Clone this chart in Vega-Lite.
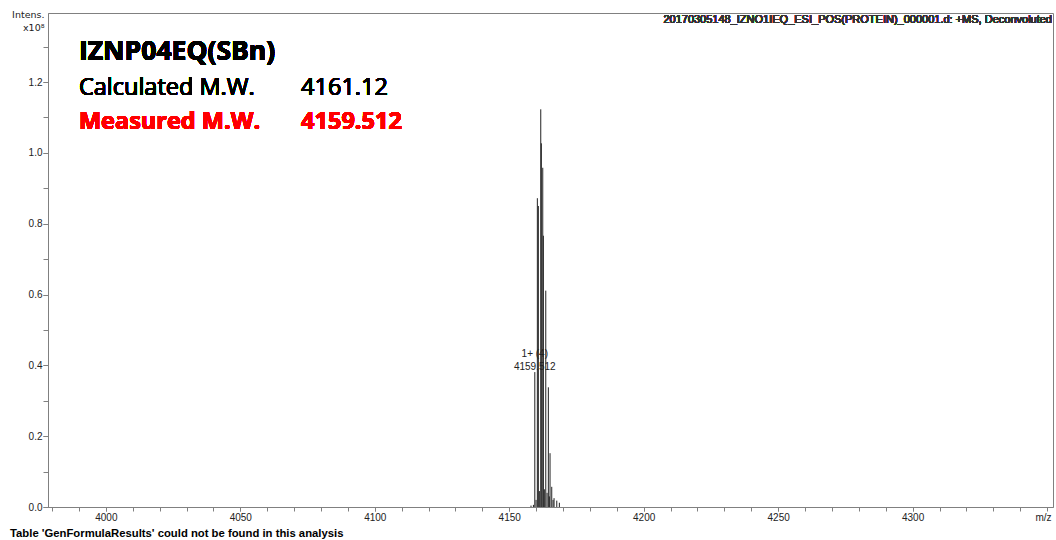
{
  "$schema": "https://vega.github.io/schema/vega-lite/v6.json",
  "width": 1005,
  "height": 494,
  "autosize": {"type": "none"},
  "padding": {"left": 48, "top": 13, "right": 3, "bottom": 33},
  "background": "white",
  "config": {"view": {"stroke": "#808080", "strokeWidth": 1}, "font": "Liberation Sans"},
  "title": {"text": "Table 'GenFormulaResults' could not be found in this analysis", "orient": "bottom", "anchor": "start", "frame": "group", "fontSize": 11.3, "fontWeight": "bold", "color": "#000000", "font": "Liberation Sans", "dx": -38, "offset": 6},
  "resolve": {"axis": {"x": "independent", "y": "independent"}},
  "datasets": {
    "peaks": [
      {"mz": 4158.1, "intensity": 0.004},
      {"mz": 4159.0, "intensity": 0.006},
      {"mz": 4159.512, "intensity": 0.381, "label": "1+ (4)\n4159.512"},
      {"mz": 4159.98, "intensity": 0.02},
      {"mz": 4160.46, "intensity": 0.872},
      {"mz": 4160.83, "intensity": 0.85},
      {"mz": 4161.21, "intensity": 0.045},
      {"mz": 4161.73, "intensity": 1.123},
      {"mz": 4161.95, "intensity": 1.027},
      {"mz": 4162.47, "intensity": 0.958},
      {"mz": 4162.7, "intensity": 0.766},
      {"mz": 4163.07, "intensity": 0.05},
      {"mz": 4163.59, "intensity": 0.611},
      {"mz": 4164.07, "intensity": 0.04},
      {"mz": 4164.55, "intensity": 0.338},
      {"mz": 4164.92, "intensity": 0.03},
      {"mz": 4165.18, "intensity": 0.152},
      {"mz": 4165.81, "intensity": 0.057},
      {"mz": 4166.3, "intensity": 0.02},
      {"mz": 4166.67, "intensity": 0.025},
      {"mz": 4167.68, "intensity": 0.018},
      {"mz": 4168.65, "intensity": 0.012}
    ]
  },
  "data": {"name": "peaks"},
  "layer": [
    {
      "mark": {"type": "rule", "color": "#222222", "strokeWidth": 1},
      "encoding": {
        "x": {
          "field": "mz", "type": "quantitative",
          "scale": {"domain": [3978.5, 4352.2], "nice": false, "zero": false},
          "axis": {
            "orient": "bottom",
            "values": [3980,3990,4000,4010,4020,4030,4040,4050,4060,4070,4080,4090,4100,4110,4120,4130,4140,4150,4160,4170,4180,4190,4200,4210,4220,4230,4240,4250,4260,4270,4280,4290,4300,4310,4320,4330,4340,4350],
            "labels": false, "title": null, "tickSize": 4,
            "domainColor": "#808080", "tickColor": "#808080", "grid": false
          }
        },
        "y": {
          "field": "intensity", "type": "quantitative",
          "scale": {"domain": [0, 1.395], "nice": false},
          "axis": {
            "orient": "left",
            "values": [0, 0.1, 0.2, 0.3, 0.4, 0.5, 0.6, 0.7, 0.8, 0.9, 1.0, 1.1, 1.2, 1.3],
            "labels": false, "title": null, "tickSize": 5,
            "domainColor": "#808080", "tickColor": "#808080", "grid": false
          }
        },
        "y2": {"datum": 0}
      }
    },
    {
      "transform": [{"filter": "isValid(datum.label)"}],
      "mark": {"type": "text", "fontSize": 10, "color": "#222222", "baseline": "bottom", "align": "center", "dy": -13, "lineBreak": "\n", "lineHeight": 13},
      "encoding": {
        "x": {
          "field": "mz", "type": "quantitative",
          "axis": {
            "orient": "bottom",
            "values": [4000, 4050, 4100, 4150, 4200, 4250, 4300],
            "format": "d",
            "title": "m/z", "titleX": 995, "titleY": 10, "titleAlign": "center", "titleBaseline": "middle",
            "titleFontWeight": "normal", "titleFontSize": 10, "titleColor": "#222222",
            "labelFontSize": 10, "labelColor": "#222222", "tickSize": 4, "labelPadding": 1,
            "domain": false, "tickColor": "#808080", "grid": false, "labelFlush": false, "labelOverlap": false
          }
        },
        "y": {
          "field": "intensity", "type": "quantitative",
          "axis": {
            "orient": "left",
            "values": [0, 0.2, 0.4, 0.6, 0.8, 1.0, 1.2],
            "format": ".1f",
            "title": ["Intens.", "x10⁸"], "titleAngle": 0, "titleAlign": "right", "titleBaseline": "top",
            "titleX": -4, "titleY": -4, "titleFont": "DejaVu Sans", "titleFontSize": 9.5, "titleFontWeight": "normal", "titleLineHeight": 13, "titleColor": "#222222",
            "labelFontSize": 10, "labelColor": "#222222", "tickSize": 5, "labelPadding": 1,
            "domain": false, "tickColor": "#808080", "grid": false, "labelOverlap": false
          }
        },
        "text": {"field": "label"}
      }
    },
    {
      "mark": {"type": "text", "fontSize": 11, "color": "#333333", "align": "right", "baseline": "alphabetic", "dx": -1},
      "encoding": {
        "x": {"datum": 4352.2, "type": "quantitative", "axis": null},
        "y": {"datum": 1.3666, "type": "quantitative", "axis": null},
        "text": {"value": "20170305148_IZNO1IEQ_ESI_POS(PROTEIN)_000001.d: +MS, Deconvoluted"}
      }
    },
    {
      "mark": {"type": "text", "font": "Open Sans", "fontSize": 26.5, "fontWeight": "bold", "color": "#000000", "align": "left", "baseline": "alphabetic"},
      "encoding": {
        "x": {"datum": 3990.0, "type": "quantitative", "axis": null},
        "y": {"datum": 1.262, "type": "quantitative", "axis": null},
        "text": {"value": "IZNP04EQ(SBn)"}
      }
    },
    {
      "mark": {"type": "text", "font": "Open Sans", "fontSize": 23.5, "color": "#000000", "align": "left", "baseline": "alphabetic"},
      "encoding": {
        "x": {"datum": 3990.0, "type": "quantitative", "axis": null},
        "y": {"datum": 1.1633, "type": "quantitative", "axis": null},
        "text": {"value": "Calculated M.W."}
      }
    },
    {
      "mark": {"type": "text", "font": "Open Sans", "fontSize": 23.5, "color": "#000000", "align": "left", "baseline": "alphabetic"},
      "encoding": {
        "x": {"datum": 4072.6, "type": "quantitative", "axis": null},
        "y": {"datum": 1.1633, "type": "quantitative", "axis": null},
        "text": {"value": "4161.12"}
      }
    },
    {
      "mark": {"type": "text", "font": "Open Sans", "fontSize": 23.5, "fontWeight": "bold", "color": "#ff0000", "align": "left", "baseline": "alphabetic"},
      "encoding": {
        "x": {"datum": 3990.0, "type": "quantitative", "axis": null},
        "y": {"datum": 1.0673, "type": "quantitative", "axis": null},
        "text": {"value": "Measured M.W."}
      }
    },
    {
      "mark": {"type": "text", "font": "Open Sans", "fontSize": 23.5, "fontWeight": "bold", "color": "#ff0000", "align": "left", "baseline": "alphabetic"},
      "encoding": {
        "x": {"datum": 4072.6, "type": "quantitative", "axis": null},
        "y": {"datum": 1.0673, "type": "quantitative", "axis": null},
        "text": {"value": "4159.512"}
      }
    }
  ]
}
